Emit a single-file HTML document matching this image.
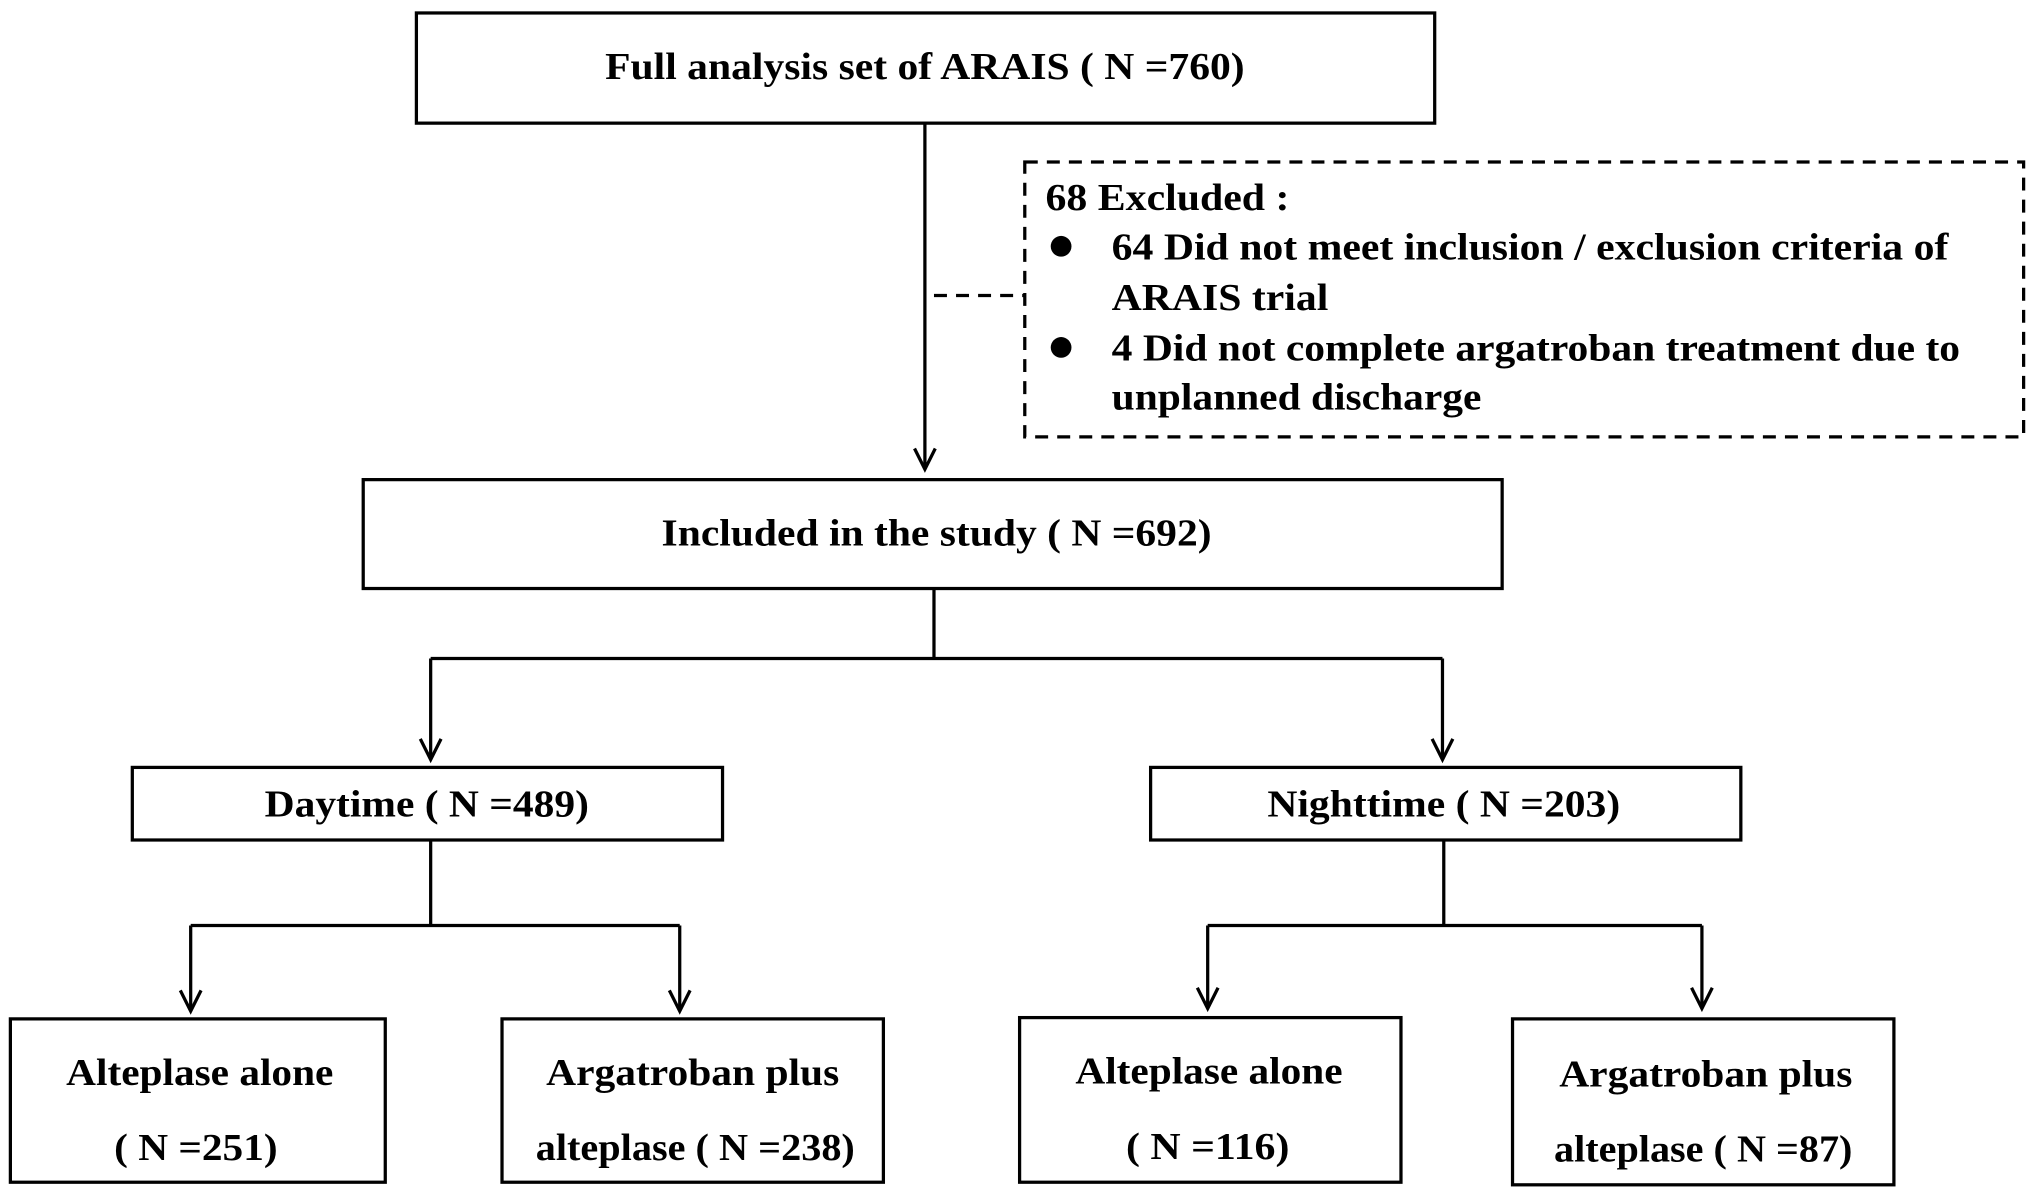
<!DOCTYPE html>
<html><head><meta charset="utf-8"><style>
html,body{margin:0;padding:0;background:#fff;}
svg{display:block;}
</style></head><body>
<svg width="2034" height="1190" viewBox="0 0 1568 918" preserveAspectRatio="none" xmlns="http://www.w3.org/2000/svg">
<g fill="none" stroke="#000" stroke-width="2.5">
<rect x="321" y="10" width="785" height="85"/>
<rect x="280" y="370" width="878" height="84"/>
<rect x="102" y="592" width="455" height="56"/>
<rect x="887" y="592" width="455" height="56"/>
<rect x="8" y="786" width="289" height="126"/>
<rect x="387" y="786" width="294" height="126"/>
<rect x="786" y="785" width="294" height="127"/>
<rect x="1166" y="786" width="294" height="128"/>
<rect x="790" y="125" width="770" height="212" stroke-dasharray="10,7"/>
<line x1="720" y1="228" x2="790" y2="228" stroke-dasharray="10,7"/>
<line x1="713" y1="95" x2="713" y2="362"/>
<polyline points="705,346 713,362 721,346"/>
<line x1="720" y1="454" x2="720" y2="508"/>
<line x1="332" y1="508" x2="1112" y2="508"/>
<line x1="332" y1="508" x2="332" y2="586"/>
<polyline points="324,570 332,586 340,570"/>
<line x1="1112" y1="508" x2="1112" y2="586"/>
<polyline points="1104,570 1112,586 1120,570"/>
<line x1="332" y1="648" x2="332" y2="714"/>
<line x1="147" y1="714" x2="524" y2="714"/>
<line x1="147" y1="714" x2="147" y2="780"/>
<polyline points="139,764 147,780 155,764"/>
<line x1="524" y1="714" x2="524" y2="780"/>
<polyline points="516,764 524,780 532,764"/>
<line x1="1113" y1="648" x2="1113" y2="714"/>
<line x1="931" y1="714" x2="1312" y2="714"/>
<line x1="931" y1="714" x2="931" y2="778"/>
<polyline points="923,762 931,778 939,762"/>
<line x1="1312" y1="714" x2="1312" y2="778"/>
<polyline points="1304,762 1312,778 1320,762"/>
</g>
<circle cx="818" cy="190" r="8"/>
<circle cx="818" cy="268" r="8"/>
<g font-family="Liberation Serif, DejaVu Serif, serif" font-weight="bold" font-size="29" fill="#000">
<text x="713" y="61" text-anchor="middle" textLength="493" lengthAdjust="spacingAndGlyphs">Full analysis set of ARAIS ( N =760)</text>
<text x="806" y="162" textLength="188" lengthAdjust="spacingAndGlyphs">68 Excluded :</text>
<text x="857" y="200" textLength="645" lengthAdjust="spacingAndGlyphs">64 Did not meet inclusion / exclusion criteria of</text>
<text x="857" y="239" textLength="167" lengthAdjust="spacingAndGlyphs">ARAIS trial</text>
<text x="857" y="278" textLength="654" lengthAdjust="spacingAndGlyphs">4 Did not complete argatroban treatment due to</text>
<text x="857" y="316" textLength="285" lengthAdjust="spacingAndGlyphs">unplanned discharge</text>
<text x="722" y="421" text-anchor="middle" textLength="424" lengthAdjust="spacingAndGlyphs">Included in the study ( N =692)</text>
<text x="329" y="630" text-anchor="middle" textLength="250" lengthAdjust="spacingAndGlyphs">Daytime ( N =489)</text>
<text x="1113" y="630" text-anchor="middle" textLength="272" lengthAdjust="spacingAndGlyphs">Nighttime ( N =203)</text>
<text x="154" y="837" text-anchor="middle" textLength="206" lengthAdjust="spacingAndGlyphs">Alteplase alone</text>
<text x="151" y="895" text-anchor="middle" textLength="126" lengthAdjust="spacingAndGlyphs">( N =251)</text>
<text x="534" y="837" text-anchor="middle" textLength="226" lengthAdjust="spacingAndGlyphs">Argatroban plus</text>
<text x="536" y="895" text-anchor="middle" textLength="246" lengthAdjust="spacingAndGlyphs">alteplase ( N =238)</text>
<text x="932" y="836" text-anchor="middle" textLength="206" lengthAdjust="spacingAndGlyphs">Alteplase alone</text>
<text x="931" y="894" text-anchor="middle" textLength="126" lengthAdjust="spacingAndGlyphs">( N =116)</text>
<text x="1315" y="838" text-anchor="middle" textLength="226" lengthAdjust="spacingAndGlyphs">Argatroban plus</text>
<text x="1313" y="896" text-anchor="middle" textLength="230" lengthAdjust="spacingAndGlyphs">alteplase ( N =87)</text>
</g>
</svg>
</body></html>
